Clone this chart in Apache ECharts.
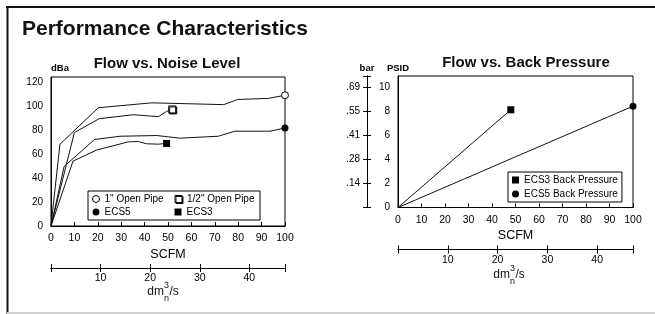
<!DOCTYPE html>
<html><head><meta charset="utf-8">
<script src="https://cdn.jsdelivr.net/npm/echarts@6/dist/echarts.min.js"></script>
<style>html,body{margin:0;padding:0;background:#fff}#c{width:655px;height:314px}</style>
</head><body><div id="c"></div>
<script>
const FONT = '"Liberation Sans", Arial, Helvetica, sans-serif';

// ---- Flow vs. Noise Level (x: SCFM, y: dBa) ----
const noiseNames = ['1" Open Pipe', '1/2" Open Pipe', 'ECS5', 'ECS3'];
const pipe1 = [[0,0],[3.8,68],[20.2,98.4],[43,102.5],[73.8,101],[79.8,105.3],[92.9,106.2],[100,108.8]];
const pipeHalf = [[0,0],[10,77.8],[20.6,89.3],[35.2,92.6],[45.9,91],[49.4,95.4],[51.8,97]];
const ecs5 = [[0,0],[5.6,49.5],[18.6,72],[29.5,74.7],[45.2,75.3],[55.1,73.1],[71.5,74.7],[78.6,78.9],[93.6,78.9],[100,81.5]];
const ecs3 = [[0,0],[9.4,54],[19.5,63.2],[33,70],[37.3,70.3],[40.9,68.4],[45.9,68.1],[49.4,68.7]];

// ---- Flow vs. Back Pressure (x: SCFM, y: PSID) ----
const pressureNames = ['ECS3 Back Pressure', 'ECS5 Back Pressure'];
const ecs3Back = [[0,0],[48,8.1]];
const ecs5Back = [[0,0],[100,8.4]];

// axis scales
const scfmMax = 100, scfmStep = 10;
const dbaMax = 124, dbaStep = 20;
const psidMax = 10.9, psidStep = 2;
const scfmToDm = 0.4719;          // dm3n/s per SCFM
const psidToBar = 0.0689476;      // bar per PSID
const dmMax = scfmMax * scfmToDm, dmStep = 10;
const barMax = psidMax * psidToBar, barStep = psidStep * psidToBar;

const black = '#111';
const isMult = (v, s) => Math.abs(v / s - Math.round(v / s)) < 1e-6;

function lastSymbol(arr, sym) {
  return arr.map((p, i) => i === arr.length - 1 ? { value: p, symbol: sym, symbolSize: 7 } : { value: p, symbol: 'none' });
}

const baseLbl = { color: '#000', fontFamily: FONT, fontSize: 10.5 };

function mainX(grid) {
  return {
    type: 'value', gridIndex: grid, min: 0, max: scfmMax, interval: scfmStep, position: 'bottom',
    axisLine: { show: true, onZero: false, lineStyle: { color: '#000', width: 1 } },
    axisTick: { show: true, inside: true, length: 4, lineStyle: { color: '#000' } },
    axisLabel: Object.assign({ margin: 7 }, baseLbl),
    splitLine: { show: false },
    name: 'SCFM', nameLocation: 'middle', nameGap: 22,
    nameTextStyle: { color: '#000', fontFamily: FONT, fontSize: 12.5 }
  };
}
function dmX(grid, inside) {
  return {
    type: 'value', gridIndex: grid, min: 0, max: dmMax, interval: dmStep, position: 'bottom', offset: 42,
    axisLine: { show: true, onZero: false, lineStyle: { color: '#000', width: 1 } },
    axisTick: { show: true, inside: inside, length: 4, lineStyle: { color: '#000' } },
    axisLabel: Object.assign({ show: !inside, margin: 5, formatter: v => (v > 0 && v < dmMax - 1 && isMult(v, dmStep)) ? String(v) : '' }, baseLbl),
    splitLine: { show: false }
  };
}
function barY(inside) {
  return {
    type: 'value', gridIndex: 1, min: 0, max: barMax, interval: barStep, position: 'left', offset: 31,
    axisLine: { show: true, onZero: false, lineStyle: { color: '#000', width: 1 } },
    axisTick: { show: true, inside: inside, length: 4, lineStyle: { color: '#000' } },
    axisLabel: Object.assign({ show: !inside, margin: 7, formatter: v => (v > 0.01 && v < barMax - 0.01) ? v.toFixed(2).replace(/^0/, '') : '' }, baseLbl, { fontSize: 10 }),
    splitLine: { show: false },
    name: inside ? '' : 'bar', nameLocation: 'end', nameGap: 8,
    nameTextStyle: { color: '#000', fontFamily: FONT, fontSize: 9.5, fontWeight: 'bold', align: 'center', verticalAlign: 'middle' }
  };
}

const openStyle = { color: '#fff', borderColor: '#000', borderWidth: 1 };
const openSqStyle = { color: '#fff', borderColor: '#000', borderWidth: 1, shadowColor: 'rgba(0,0,0,0.9)', shadowBlur: 0, shadowOffsetX: 1, shadowOffsetY: 1 };
const solidStyle = { color: '#000', borderColor: '#000', borderWidth: 0 };

function lineSeries(name, data, sym, itemStyle, xi, yi) {
  return {
    type: 'line', name, xAxisIndex: xi, yAxisIndex: yi, symbol: sym, symbolSize: 7,
    data: lastSymbol(data, sym), showSymbol: true, silent: true,
    lineStyle: { color: black, width: 1 }, itemStyle, emphasis: { disabled: true }, z: 3
  };
}

function dmLabel(cx, cy) {
  const t = (text, x, y, size, align) => ({
    type: 'text', x, y, silent: true,
    style: { text, fill: '#111', font: size + 'px ' + FONT, align, verticalAlign: 'middle', textAlign: align, textVerticalAlign: 'middle' }
  });
  return [
    t('dm', cx - 3, cy, 12, 'right'),
    t('3', cx - 3, cy - 6, 9, 'left'),
    t('n', cx - 3, cy + 7, 9, 'left'),
    t('/s', cx + 2.5, cy, 12, 'left')
  ];
}

const option = {
  animation: false,
  backgroundColor: '#fff',
  textStyle: { fontFamily: FONT },
  title: [
    { text: 'Performance Characteristics', left: 22, top: 19, padding: 0, textStyle: { fontSize: 21, fontWeight: 'bold', color: '#111', fontFamily: FONT } },
    { text: 'Flow vs. Noise Level', left: 167, textAlign: 'center', top: 56, padding: 0, textStyle: { fontSize: 15, fontWeight: 'bold', color: '#111', fontFamily: FONT } },
    { text: 'Flow vs. Back Pressure', left: 526, textAlign: 'center', top: 55, padding: 0, textStyle: { fontSize: 15, fontWeight: 'bold', color: '#111', fontFamily: FONT } }
  ],
  grid: [
    { left: 51, top: 77, width: 234, height: 149, show: true, borderColor: '#000', borderWidth: 1, backgroundColor: 'transparent' },
    { left: 398, top: 76, width: 235, height: 131.5, show: true, borderColor: '#000', borderWidth: 1, backgroundColor: 'transparent' }
  ],
  xAxis: [mainX(0), dmX(0, false), dmX(0, true), mainX(1), dmX(1, false), dmX(1, true)],
  yAxis: [
    {
      type: 'value', gridIndex: 0, min: 0, max: dbaMax, interval: dbaStep,
      axisLine: { show: true, onZero: false, lineStyle: { color: '#000' } }, axisTick: { show: false },
      axisLabel: Object.assign({ margin: 8, formatter: v => isMult(v, dbaStep) ? String(v) : '' }, baseLbl, { fontSize: 10 }),
      splitLine: { show: false },
      name: 'dBa', nameLocation: 'end', nameGap: 9,
      nameTextStyle: { color: '#000', fontFamily: FONT, fontSize: 9.5, fontWeight: 'bold', align: 'left', verticalAlign: 'middle' }
    },
    {
      type: 'value', gridIndex: 1, min: 0, max: psidMax, interval: psidStep,
      axisLine: { show: true, onZero: false, lineStyle: { color: '#000' } }, axisTick: { show: false },
      axisLabel: Object.assign({ margin: 8, formatter: v => isMult(v, psidStep) ? String(v) : '' }, baseLbl, { fontSize: 10 }),
      splitLine: { show: false },
      name: 'PSID', nameLocation: 'end', nameGap: 8,
      nameTextStyle: { color: '#000', fontFamily: FONT, fontSize: 9.5, fontWeight: 'bold', align: 'center', verticalAlign: 'middle' }
    },
    barY(false), barY(true)
  ],
  legend: [
    {
      left: 88, top: 191, width: 164, padding: [2, 4], itemGap: 1, itemWidth: 7, itemHeight: 7,
      orient: 'horizontal', selectedMode: false, borderColor: '#000', borderWidth: 1, backgroundColor: '#fff',
      textStyle: { color: '#000', fontFamily: FONT, fontSize: 10, width: 69, lineHeight: 12 },
      data: [
        { name: noiseNames[0], icon: 'circle', itemStyle: openStyle },
        { name: noiseNames[1], icon: 'rect', itemStyle: openSqStyle },
        { name: noiseNames[2], icon: 'circle', itemStyle: solidStyle },
        { name: noiseNames[3], icon: 'rect', itemStyle: solidStyle }
      ]
    },
    {
      left: 508, top: 172, padding: [2, 4], itemGap: 2, itemWidth: 7, itemHeight: 7,
      orient: 'vertical', selectedMode: false, borderColor: '#000', borderWidth: 1, backgroundColor: '#fff',
      textStyle: { color: '#000', fontFamily: FONT, fontSize: 10, lineHeight: 12 },
      data: [
        { name: pressureNames[0], icon: 'rect', itemStyle: solidStyle },
        { name: pressureNames[1], icon: 'circle', itemStyle: solidStyle }
      ]
    }
  ],
  series: [
    lineSeries(noiseNames[0], pipe1, 'circle', openStyle, 0, 0),
    lineSeries(noiseNames[1], pipeHalf, 'rect', openSqStyle, 0, 0),
    lineSeries(noiseNames[2], ecs5, 'circle', solidStyle, 0, 0),
    lineSeries(noiseNames[3], ecs3, 'rect', solidStyle, 0, 0),
    lineSeries(pressureNames[0], ecs3Back, 'rect', solidStyle, 3, 1),
    lineSeries(pressureNames[1], ecs5Back, 'circle', solidStyle, 3, 1)
  ],
  graphic: [
    { type: 'rect', silent: true, shape: { x: 6, y: 6, width: 649, height: 2 }, style: { fill: '#111' } },
    { type: 'rect', silent: true, shape: { x: 6.5, y: 6, width: 2, height: 308 }, style: { fill: '#111' } },
    { type: 'rect', silent: true, shape: { x: 7, y: 312, width: 648, height: 2 }, style: { fill: '#cfcfcf' } }
  ].concat(dmLabel(167, 291.5), dmLabel(513, 275))
};

const chart = echarts.init(document.getElementById('c'), null, { renderer: 'canvas' });
chart.setOption(option);
</script>
</body></html>
